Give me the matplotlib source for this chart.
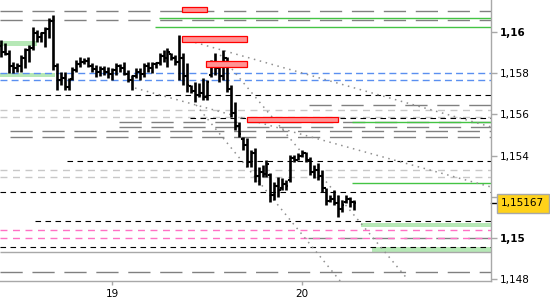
import numpy as np
import matplotlib
matplotlib.use("Agg")
from matplotlib import pyplot as plt
from matplotlib.transforms import blended_transform_factory
from matplotlib.patches import Rectangle

# 30 minute EURUSD-like bars, index 0 = first bar on screen
highs = [1.15962, 1.15947, 1.15913, 1.15855, 1.15850, 1.15889, 1.15923, 1.15937, 1.16025, 1.16010,
         1.16000, 1.16025, 1.16069, 1.16083, 1.15850, 1.15806, 1.15806, 1.15777, 1.15830, 1.15864,
         1.15879, 1.15874, 1.15879, 1.15850, 1.15840, 1.15835, 1.15835, 1.15830, 1.15826, 1.15850,
         1.15845, 1.15855, 1.15816, 1.15792, 1.15826, 1.15826, 1.15850, 1.15855, 1.15855, 1.15855,
         1.15898, 1.15913, 1.15923, 1.15898, 1.15889, 1.15986, 1.15898, 1.15850, 1.15743, 1.15758,
         1.15753, 1.15777, 1.15767, 1.15864, 1.15898, 1.15855, 1.15913, 1.15879, 1.15743, 1.15660,
         1.15563, 1.15490, 1.15485, 1.15427, 1.15437, 1.15344, 1.15354, 1.15378, 1.15315, 1.15271,
         1.15296, 1.15291, 1.15281, 1.15403, 1.15403, 1.15412, 1.15427, 1.15417, 1.15393, 1.15354,
         1.15364, 1.15330, 1.15242, 1.15208, 1.15233, 1.15208, 1.15184, 1.15208, 1.15199, 1.15184]
lows = [1.15879, 1.15889, 1.15801, 1.15801, 1.15806, 1.15806, 1.15826, 1.15855, 1.15913, 1.15952,
        1.15952, 1.15928, 1.15971, 1.15816, 1.15719, 1.15743, 1.15719, 1.15719, 1.15767, 1.15806,
        1.15830, 1.15845, 1.15830, 1.15806, 1.15782, 1.15787, 1.15792, 1.15777, 1.15767, 1.15792,
        1.15806, 1.15792, 1.15758, 1.15719, 1.15777, 1.15767, 1.15782, 1.15806, 1.15801, 1.15826,
        1.15840, 1.15855, 1.15830, 1.15864, 1.15840, 1.15767, 1.15743, 1.15709, 1.15704, 1.15660,
        1.15685, 1.15670, 1.15670, 1.15782, 1.15792, 1.15758, 1.15767, 1.15709, 1.15587, 1.15524,
        1.15490, 1.15427, 1.15344, 1.15344, 1.15271, 1.15257, 1.15296, 1.15296, 1.15174, 1.15184,
        1.15199, 1.15233, 1.15233, 1.15271, 1.15369, 1.15378, 1.15393, 1.15369, 1.15306, 1.15291,
        1.15281, 1.15223, 1.15160, 1.15174, 1.15160, 1.15102, 1.15126, 1.15170, 1.15150, 1.15136]
opens = [1.15930, 1.15905, 1.15895, 1.15835, 1.15825, 1.15835, 1.15875, 1.15915, 1.15925, 1.15995,
         1.15975, 1.15995, 1.16015, 1.16055, 1.15835, 1.15765, 1.15775, 1.15735, 1.15770, 1.15815,
         1.15845, 1.15855, 1.15860, 1.15835, 1.15820, 1.15805, 1.15820, 1.15805, 1.15795, 1.15815,
         1.15835, 1.15825, 1.15795, 1.15765, 1.15785, 1.15805, 1.15795, 1.15835, 1.15825, 1.15845,
         1.15850, 1.15885, 1.15875, 1.15895, 1.15875, 1.15855, 1.15875, 1.15785, 1.15740, 1.15715,
         1.15695, 1.15705, 1.15685, 1.15790, 1.15855, 1.15825, 1.15785, 1.15875, 1.15725, 1.15605,
         1.15545, 1.15480, 1.15450, 1.15370, 1.15410, 1.15300, 1.15320, 1.15310, 1.15305, 1.15210,
         1.15250, 1.15240, 1.15260, 1.15280, 1.15390, 1.15380, 1.15400, 1.15410, 1.15380, 1.15320,
         1.15330, 1.15300, 1.15240, 1.15180, 1.15190, 1.15170, 1.15140, 1.15175, 1.15190, 1.15175]
closes = [1.15905, 1.15895, 1.15835, 1.15825, 1.15835, 1.15875, 1.15915, 1.15925, 1.15995, 1.15975,
          1.15995, 1.16015, 1.16055, 1.15835, 1.15765, 1.15775, 1.15735, 1.15765, 1.15815, 1.15845,
          1.15855, 1.15860, 1.15835, 1.15820, 1.15805, 1.15820, 1.15805, 1.15795, 1.15815, 1.15835,
          1.15825, 1.15795, 1.15765, 1.15785, 1.15805, 1.15795, 1.15835, 1.15825, 1.15845, 1.15850,
          1.15885, 1.15875, 1.15905, 1.15875, 1.15855, 1.15875, 1.15785, 1.15745, 1.15715, 1.15695,
          1.15705, 1.15685, 1.15755, 1.15855, 1.15825, 1.15785, 1.15875, 1.15725, 1.15605, 1.15545,
          1.15505, 1.15450, 1.15370, 1.15410, 1.15300, 1.15320, 1.15310, 1.15360, 1.15210, 1.15250,
          1.15230, 1.15260, 1.15250, 1.15390, 1.15380, 1.15400, 1.15410, 1.15380, 1.15320, 1.15330,
          1.15300, 1.15240, 1.15180, 1.15190, 1.15170, 1.15140, 1.15160, 1.15190, 1.15175, 1.15167]
last_price = 1.15167

day_labels = ["19", "20"]
day_index = [28, 76]

# horizontal levels: price, first bar index (None = whole chart)
gray_levels = [1.16103, 1.16059, 1.15646, 1.15563, 1.15539, 1.15519, 1.15490, 1.14999, 1.14834]
gray_from = [None, None, 77.8, 29.8, 29.8, 2.3, 2.3, 77.5, None]
lightgray_levels = [1.15621, 1.15587, 1.15330, 1.15296]
blue_levels = [1.15801, 1.15767]
pink_levels = [1.15038, 1.14999]
black_levels = [1.15694, 1.15583, 1.15374, 1.15223, 1.15082, 1.14956]
black_from = [3.5, 47.7, 16.7, None, 8.6, None]
green_levels = [1.16069, 1.16025, 1.15563, 1.15267]
green_from = [39.9, 38.9, 88.6, 88.6]
solid_level = 1.14931

# zones: (start index, end index, low price, high price)
green_zones = [(None, 9.1, 1.15932, 1.15957), (None, 13.6, 1.15782, 1.15801),
               (90.9, None, 1.15053, 1.15072), (93.7, None, 1.14931, 1.14956)]
red_zones = [(45.7, 52.0, 1.16098, 1.16122), (45.7, 62.1, 1.15952, 1.15981),
             (51.8, 62.1, 1.15830, 1.15860), (62.1, 85.1, 1.15563, 1.15587)]

# dotted trend lines: (i0, p0, i1, p1)
trend_lines = [(46.0, 1.15966, 123.7, 1.15539),
               (33.8, 1.15728, 123.7, 1.15247),
               (55.3, 1.15889, 102.8, 1.14795),
               (49.2, 1.15646, 85.6, 1.14790)]

XMIN, XMAX = -0.3, 123.7
YMIN, YMAX = 1.14790, 1.16156

fig = plt.figure(figsize=(5.5, 3), dpi=100)
ax = fig.add_axes([0, 19 / 300, 491 / 550, 281 / 300])
ax.set_xlim(XMIN, XMAX)
ax.set_ylim(YMIN, YMAX)

def x0(v):
    return XMIN if v is None else v

def x1(v):
    return XMAX if v is None else v

for lv, st in zip(gray_levels, gray_from):
    ax.hlines(lv, x0(st), XMAX, color="#808080", lw=1.0, linestyles=(0, (16, 7)))
for lv in lightgray_levels:
    ax.hlines(lv, XMIN, XMAX, color="#c8c8c8", lw=1.0, linestyles=(0, (5, 4)))
for lv in blue_levels:
    ax.hlines(lv, XMIN, XMAX, color="#5a8ff0", lw=1.0, linestyles=(0, (5, 3)))
for lv in pink_levels:
    ax.hlines(lv, XMIN, XMAX, color="#ff70c4", lw=1.0, linestyles=(0, (5, 4)))
ax.hlines(solid_level, XMIN, XMAX, color="#a8a8a8", lw=1.0)
for (a, b, lo, hi) in green_zones:
    ax.add_patch(Rectangle((x0(a), lo), x1(b) - x0(a), hi - lo, fc="#b6e8b6", ec="none"))
for lv, st in zip(black_levels, black_from):
    ax.hlines(lv, x0(st), XMAX, color="black", lw=0.8, linestyles=(0, (5, 4)))
for lv, st in zip(green_levels, green_from):
    ax.hlines(lv, x0(st), XMAX, color="#44c444", lw=1.0)

for (a, p0, b, p1) in trend_lines:
    ax.plot([a, b], [p0, p1], color="#909090", lw=1.1, linestyle=(0, (1, 3)))

# bars
idx = np.arange(len(highs))
ax.vlines(idx, lows, highs, color="black", lw=1.9)
ax.hlines(opens, idx - 0.55, idx, color="black", lw=1.5)
ax.hlines(closes, idx, idx + 0.55, color="black", lw=1.5)

for (a, b, lo, hi) in red_zones:
    ax.add_patch(Rectangle((a, lo), b - a, hi - lo, fc="#ff9494", ec="#ff0000", lw=0.9, zorder=3))

# axes styling
for s in ["left", "top"]:
    ax.spines[s].set_visible(False)
for s in ["right", "bottom"]:
    ax.spines[s].set_color("#a8a8a8")
    ax.spines[s].set_linewidth(1.0)

yt = [1.148, 1.150, 1.152, 1.154, 1.156, 1.158, 1.160]
# 1,152 sits under the current price box
ylab = ["1,148", "1,15", "", "1,154", "1,156", "1,158", "1,16"]
ax.yaxis.tick_right()
ax.set_yticks(yt)
ax.set_yticklabels(ylab)
for t, l in zip(ax.get_yticklabels(), ylab):
    if len(l) == 4:
        t.set_fontweight("bold")
ax.tick_params(axis="y", length=4.5, width=1.0, color="#a8a8a8", labelsize=7.5, pad=2)
ax.set_xticks(day_index)
ax.set_xticklabels(day_labels)
ax.tick_params(axis="x", length=3, width=1.0, color="#a8a8a8", labelsize=7.5, pad=3)

# current price marker
tr = blended_transform_factory(ax.transAxes, ax.transData)
ax.plot([1.0, 1.013], [last_price, last_price], color="black", lw=1.0, transform=tr, clip_on=False)
ax.text(1.021, last_price, "1,15167", transform=tr, fontsize=7.5, va="center", ha="left",
        bbox=dict(boxstyle="square,pad=0.45", fc="#ffd21a", ec="#a8a8a8", lw=1.0), zorder=10)

fig.savefig("out.png", dpi=100)
